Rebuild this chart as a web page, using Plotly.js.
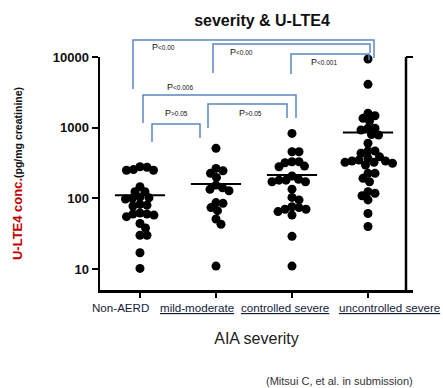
<!DOCTYPE html>
<html>
<head>
<meta charset="utf-8">
<script src="https://cdn.plot.ly/plotly-3.0.1.min.js"></script>
<style>html,body{margin:0;padding:0;background:#fff;}#chart{width:443px;height:388px;}</style>
</head>
<body>
<div id="chart"></div>
<script>
// ---------- data ----------
const categories = ['Non-AERD', 'mild-moderate', 'controlled severe', 'uncontrolled severe'];
const nonAERD = [280, 255, 250, 250, 275, 146, 124, 124, 102, 100, 104, 98, 80, 82, 78, 60, 62, 55, 60, 58, 38, 44, 30, 30, 17, 10.2];
const mildModerate = [510, 246, 265, 226, 198, 154, 134, 128, 141, 85, 67, 74, 87, 51, 43, 11];
const controlledSevere = [830, 456, 456, 330, 286, 280, 319, 330, 186, 172, 207, 172, 181, 181, 135, 103, 95, 76, 70, 58, 74, 65, 70, 29, 11];
const uncontrolledSevere = [9370, 4100, 1600, 1240, 1356, 1477, 980, 927, 980, 787, 800, 601, 467, 434, 467, 388, 348, 323, 313, 337, 368, 337, 323, 296, 226, 192, 172, 226, 118, 95, 109, 124, 61, 40];
const meanLine = [111, 159, 214, 857];
const yTickVals = [10, 100, 1000, 10000];
const yTickText = ['10', '100', '1000', '10000'];
const pPairs = [[0, 3], [1, 3], [2, 3], [0, 2], [0, 1], [1, 2]];
const pLabels = ['P<0.00', 'P<0.00', 'P<0.001', 'P<0.006', 'P>0.05', 'P>0.05'];

// ---------- layout geometry (pixels) ----------
const W = 443, H = 388;
const M = {l: 100, r: 30, t: 57, b: 98};
const plotW = W - M.l - M.r, plotH = H - M.t - M.b;
const xRange = [-0.526, 3.592];
const yRange = [0.703, 4.0];
const pxPerCat = plotW / (xRange[1] - xRange[0]);
const pxPerDecade = plotH / (yRange[1] - yRange[0]);
// bracket drawing geometry: [top, leftX, leftBottom, rightX, rightBottom, labelX, labelY]
const bracketGeom = [
  [40, 133, 89, 374, 58, 150, 47],
  [44, 213, 73, 370, 53, 228, 52],
  [54, 291, 74, 369, 60, 309, 62],
  [95, 143, 123, 296, 118, 165, 87],
  [124, 152, 142, 200, 138, 163, 113],
  [104, 208, 128, 287, 118, 237, 113]
];
const labelCenters = [120, 197, 285, 389];
const px = x => (x - M.l) / plotW;
const py = y => (M.t + plotH - y) / plotH;

// ---------- deterministic beeswarm ----------
function swarm(values, idx) {
  const d = 7.0;
  const order = values.map((v, i) => i).sort((a, b) => values[b] - values[a]);
  const placed = [];
  const xs = new Array(values.length);
  order.forEach(i => {
    const yp = Math.log10(values[i]) * pxPerDecade;
    let chosen = 0;
    outer:
    for (let k = 0; k < 400; k++) {
      const cands = k === 0 ? [0] : [k * 0.5, -k * 0.5];
      for (const off of cands) {
        let ok = true;
        for (const p of placed) {
          const dx = p[0] - off, dy = p[1] - yp;
          if (dx * dx + dy * dy < d * d) { ok = false; break; }
        }
        if (ok) { chosen = off; break outer; }
      }
    }
    placed.push([chosen, yp]);
    xs[i] = idx + chosen / pxPerCat;
  });
  return xs;
}

const groups = [nonAERD, mildModerate, controlledSevere, uncontrolledSevere];
const traces = [];
groups.forEach((vals, i) => {
  traces.push({
    type: 'scatter', mode: 'markers', name: categories[i],
    x: swarm(vals, i), y: vals,
    marker: {size: 9, color: '#000'},
    cliponaxis: false, hoverinfo: 'y', showlegend: false
  });
});
meanLine.forEach((m, i) => {
  traces.push({
    type: 'scatter', mode: 'lines', x: [i - 0.33, i + 0.33], y: [m, m],
    line: {color: '#000', width: 2}, cliponaxis: false, showlegend: false, hoverinfo: 'skip'
  });
});

// ---------- shapes: brackets + right frame ----------
const bracketColor = '#5b86c4';
const shapes = bracketGeom.map(g => ({
  type: 'path', xref: 'paper', yref: 'paper',
  path: `M ${px(g[1])} ${py(g[2])} L ${px(g[1])} ${py(g[0])} L ${px(g[3])} ${py(g[0])} L ${px(g[3])} ${py(g[4])}`,
  line: {color: bracketColor, width: 1.5}
}));
shapes.push({type: 'line', xref: 'paper', yref: 'paper', x0: px(406), x1: px(406), y0: 0, y1: py(57),
  line: {color: '#000', width: 2.5}});
shapes.push({type: 'line', xref: 'paper', yref: 'paper', x0: px(406), x1: px(413), y0: py(57), y1: py(57),
  line: {color: '#000', width: 2}});

// ---------- annotations ----------
const annotations = [];
pLabels.forEach((lab, i) => {
  const g = bracketGeom[i];
  annotations.push({
    xref: 'paper', yref: 'paper', x: px(g[5]), y: py(g[6]), xanchor: 'left', yanchor: 'middle',
    text: lab.charAt(0) + "<span style='font-size:6.5px'>" + lab.slice(1) + '</span>',
    showarrow: false, font: {family: 'Liberation Sans, Arial, sans-serif', size: 9, color: '#111'}
  });
});
categories.forEach((c, i) => {
  annotations.push({
    xref: 'paper', yref: 'paper', x: px(labelCenters[i]), y: py(307), xanchor: 'center', yanchor: 'middle',
    text: c, showarrow: false,
    font: {family: 'Liberation Sans, Arial, sans-serif', size: 11.6, color: '#141a40',
      lineposition: i === 0 ? 'none' : 'under'}
  });
});
annotations.push({
  xref: 'paper', yref: 'paper', x: px(415), y: py(381), xanchor: 'right', yanchor: 'middle',
  text: '(Mitsui C, et al. in submission)', showarrow: false,
  font: {family: 'Liberation Sans, Arial, sans-serif', size: 11, color: '#333'}
});

const layout = {
  width: W, height: H, margin: M, paper_bgcolor: '#fff', plot_bgcolor: '#fff', showlegend: false,
  title: {text: 'severity & U-LTE4', x: 262 / W, xanchor: 'center', y: 1 - 20 / H, yanchor: 'middle',
    font: {family: 'Liberation Sans, Arial, sans-serif', size: 16, weight: 'bold', color: '#111'}},
  xaxis: {
    range: xRange, tickvals: [0, 1, 2, 3], ticktext: categories, showticklabels: false,
    ticks: 'outside', ticklen: 5, tickwidth: 2, tickcolor: '#000',
    showline: true, linecolor: '#000', linewidth: 2.5, showgrid: false, zeroline: false,
    automargin: false,
    title: {text: 'AIA severity', standoff: 37,
      font: {family: 'Liberation Sans, Arial, sans-serif', size: 16, color: '#222'}}
  },
  yaxis: {
    type: 'log', range: yRange, tickvals: yTickVals, ticktext: yTickText,
    ticks: 'outside', ticklen: 6, tickwidth: 2, tickcolor: '#000',
    tickfont: {family: 'Liberation Sans, Arial, sans-serif', size: 13, weight: 'bold', color: '#111'},
    showline: true, linecolor: '#000', linewidth: 2.5, showgrid: false, zeroline: false,
    automargin: false,
    title: {
      text: "<span style='color:#c00000'>U-LTE4 conc.</span><span style='font-size:10.5px'>(pg/mg creatinine)</span>",
      standoff: 27,
      font: {family: 'Liberation Sans, Arial, sans-serif', size: 13, weight: 'bold', color: '#111'}
    }
  },
  shapes: shapes,
  annotations: annotations
};

Plotly.newPlot('chart', traces, layout, {staticPlot: true, displayModeBar: false});
</script>
</body>
</html>
